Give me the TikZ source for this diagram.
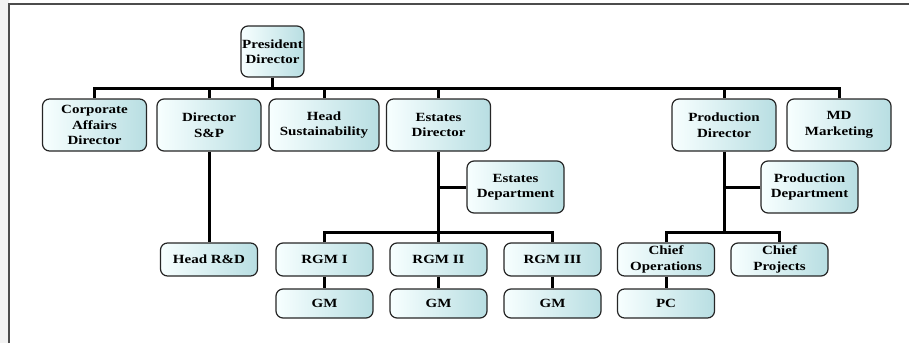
\documentclass[tikz,border=0pt]{standalone}
\usepackage{fontspec}
\setmainfont{Liberation Serif}[FakeStretch=1.2]
\definecolor{boxcyan}{RGB}{184,222,226}
\tikzset{
  unit/.style={draw=black!85,line width=1.2pt,rounded corners=7pt,align=center,inner sep=1pt,
    left color=cyan!3!white,right color=boxcyan,
    font=\bfseries\fontsize{12.5}{15.5}\selectfont},
  wide/.style={unit,minimum width=104pt,minimum height=52pt},
  dept/.style={unit,minimum width=97pt,minimum height=52pt},
  post/.style={unit,minimum width=97pt,minimum height=33pt},
  staff/.style={unit,minimum width=97pt,minimum height=29pt},
  link/.style={draw=black,line width=3pt}
}

\begin{document}
\begin{tikzpicture}[x=1pt,y=-1pt]
    \useasboundingbox (0,0) rectangle (909,343);
    \fill[black!5] (0,0) rectangle (9,343);
    \draw[black!70,line width=1.2pt] (9,343) -- (9,4) -- (909,4);
    \node[unit,minimum width=63pt,minimum height=51pt] (pres) at (272.5,51.5) {President\\Director};
    \node[wide] (corp)  at (94.5,125) {Corporate\\Affairs\\Director};
    \node[wide] (dsp)   at (209,125)  {Director\\S\&P};
    \node[wide,minimum width=110pt] (hsus) at (324,125) {Head\\Sustainability};
    \node[wide] (estd)  at (438.5,125) {Estates\\Director};
    \node[wide] (prod)  at (724,125)  {Production\\Director};
    \node[wide] (mdm)   at (839,125)  {MD\\Marketing};
    \node[dept] (estdep) at (515.5,187) {Estates\\Department};
    \node[dept] (prodep) at (809.5,187) {Production\\Department};
    \node[post] (hrd)   at (209,259.5)   {Head R\&D};
    \node[post] (rgmA)  at (324.5,259.5) {RGM I};
    \node[post] (rgmB)  at (438.5,259.5) {RGM II};
    \node[post] (rgmC)  at (552.5,259.5) {RGM III};
    \node[post] (cops)  at (666,259.5)   {Chief\\Operations};
    \node[post] (cproj) at (779.5,259.5) {Chief\\Projects};
    \node[staff] (gmA)  at (324.5,303.5) {GM};
    \node[staff] (gmB)  at (438.5,303.5) {GM};
    \node[staff] (gmC)  at (552.5,303.5) {GM};
    \node[staff] (pc)   at (666,303.5)   {PC};
    \coordinate (top) at (272.5,88);
    \coordinate (estbus) at (438.5,232);
    \coordinate (prodbus) at (724,232);
    \draw[link] (pres.south) -- (top);
    \draw[link] (corp.north) |- (top) -| (mdm.north);
    \foreach \n in {dsp,hsus,estd,prod}
        \draw[link] (\n.north) -- (\n.north |- top);
    \draw[link] (dsp.south) -- (hrd.north);
    \draw[link] (estd.south) -- (rgmB.north);
    \draw[link] (estdep.west) -- (estdep.west -| estd.south);
    \draw[link] (rgmA.north) |- (estbus) -| (rgmC.north);
    \draw[link] (prod.south) -- (prodbus);
    \draw[link] (prodep.west) -- (prodep.west -| prod.south);
    \draw[link] (cops.north) |- (prodbus) -| (cproj.north);
    \foreach \a/\b in {rgmA/gmA,rgmB/gmB,rgmC/gmC,cops/pc}
        \draw[link] (\a.south) -- (\b.north);
\end{tikzpicture}
\end{document}
